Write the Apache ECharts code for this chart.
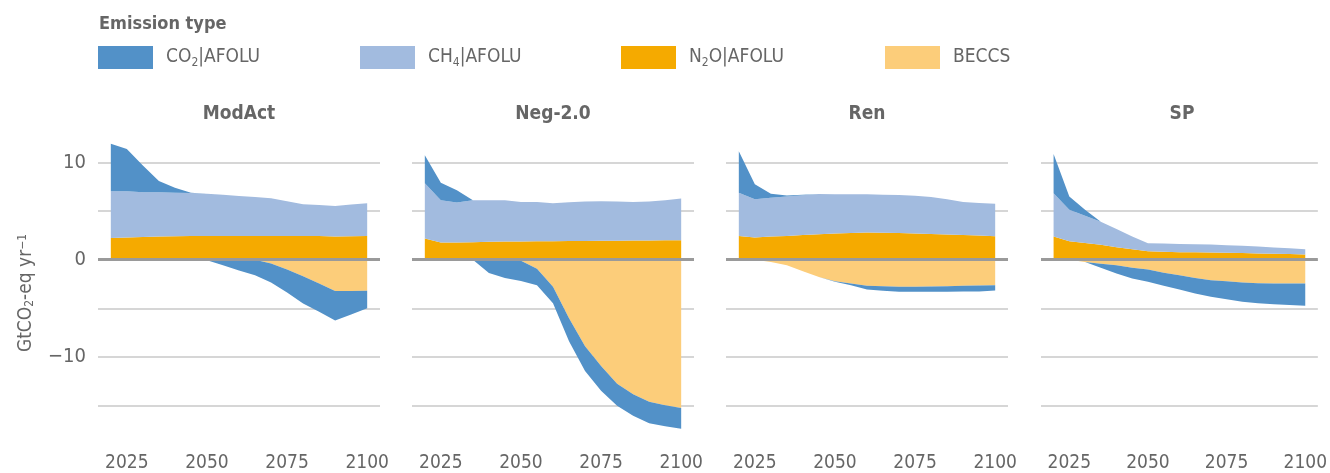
<!DOCTYPE html>
<html>
<head>
<meta charset="utf-8">
<script src="https://cdn.jsdelivr.net/npm/echarts@6/dist/echarts.min.js"></script>
<style>
html,body{margin:0;padding:0;background:#fff;}
#chart{width:1330px;height:473px;}
</style>
</head>
<body>
<div id="chart"></div>
<script>
// ---------- data (GtCO2-eq/yr) ----------
const years = [2020,2025,2030,2035,2040,2045,2050,2055,2060,2065,2070,2075,2080,2085,2090,2095,2100];
const scenarios = ['ModAct','Neg-2.0','Ren','SP'];
const xTickYears = [2025,2050,2075,2100];
const yTickLabels = {'10':'10','0':'0','-10':'\u221210'};

const co2_ModAct  = [4.9,4.35,2.75,1.16,0.51,0.03,-0.05,-0.58,-1.1,-1.6,-1.95,-2.37,-2.8,-2.9,-3.03,-2.4,-1.8];
const ch4_ModAct  = [4.8,4.76,4.61,4.56,4.48,4.42,4.35,4.23,4.11,4.0,3.88,3.57,3.26,3.2,3.14,3.26,3.37];
const n2o_ModAct  = [2.24,2.28,2.33,2.38,2.42,2.45,2.45,2.45,2.45,2.45,2.45,2.45,2.45,2.43,2.4,2.42,2.45];
const beccs_ModAct= [0,0,0,0,0,0,0,0,0,0,-0.4,-1.0,-1.7,-2.45,-3.23,-3.23,-3.2];

const co2_Neg  = [2.89,1.81,1.26,0,-1.36,-1.87,-2.08,-1.7,-1.7,-2.38,-2.55,-2.55,-2.27,-2.21,-2.21,-2.17,-2.14];
const ch4_Neg  = [5.68,4.35,4.11,4.32,4.27,4.25,4.07,4.05,3.92,4.0,4.06,4.07,4.04,3.98,4.01,4.12,4.29];
const n2o_Neg  = [2.18,1.77,1.77,1.8,1.85,1.87,1.88,1.9,1.9,1.92,1.93,1.95,1.95,1.97,1.98,2.0,2.0];
const beccs_Neg= [0,0,0,0,0,0,-0.1,-0.92,-2.79,-6.02,-8.91,-10.95,-12.76,-13.84,-14.63,-14.97,-15.27];

const co2_Ren  = [4.26,1.54,0.41,0.1,0.05,0,-0.07,-0.17,-0.37,-0.48,-0.51,-0.51,-0.54,-0.55,-0.58,-0.6,-0.54];
const ch4_Ren  = [4.45,3.94,4.01,4.05,4.08,4.15,4.04,3.99,3.94,3.92,3.91,3.87,3.81,3.62,3.4,3.37,3.34];
const n2o_Ren  = [2.45,2.28,2.38,2.45,2.55,2.62,2.69,2.74,2.79,2.78,2.76,2.71,2.65,2.6,2.55,2.48,2.41];
const beccs_Ren= [0,0,-0.24,-0.58,-1.19,-1.77,-2.21,-2.45,-2.69,-2.72,-2.79,-2.79,-2.76,-2.74,-2.69,-2.66,-2.62];

const co2_SP  = [4.04,1.36,0.62,-0.41,-0.85,-1.12,-1.26,-1.36,-1.46,-1.6,-1.7,-1.87,-1.97,-2.08,-2.14,-2.21,-2.28];
const ch4_SP  = [4.46,3.24,2.79,2.38,1.87,1.29,0.82,0.85,0.85,0.84,0.82,0.79,0.75,0.7,0.64,0.6,0.55];
const n2o_SP  = [2.38,1.9,1.73,1.53,1.29,1.09,0.88,0.82,0.78,0.76,0.74,0.71,0.68,0.65,0.62,0.58,0.54];
const beccs_SP= [0,0,-0.24,-0.41,-0.58,-0.82,-1.02,-1.33,-1.6,-1.87,-2.11,-2.21,-2.35,-2.41,-2.45,-2.45,-2.45];

const co2All   = [co2_ModAct, co2_Neg, co2_Ren, co2_SP];
const ch4All   = [ch4_ModAct, ch4_Neg, ch4_Ren, ch4_SP];
const n2oAll   = [n2o_ModAct, n2o_Neg, n2o_Ren, n2o_SP];
const beccsAll = [beccs_ModAct, beccs_Neg, beccs_Ren, beccs_SP];

const seriesNames = ['CO2|AFOLU','CH4|AFOLU','N2O|AFOLU','BECCS'];
const legendRich  = {
  'CO2|AFOLU':'{t|CO}{s|2}{t||AFOLU}',
  'CH4|AFOLU':'{t|CH}{s|4}{t||AFOLU}',
  'N2O|AFOLU':'{t|N}{s|2}{t|O|AFOLU}',
  'BECCS':'{t|BECCS}'
};

// ---------- styling ----------
const FONT = "'DejaVu Sans Condensed','DejaVu Sans',sans-serif";
const TXT = '#666666';
const colors = {'CO2|AFOLU':'#5291C8','CH4|AFOLU':'#A2BBDF','N2O|AFOLU':'#F5AA00','BECCS':'#FCCD7A'};
const gridLefts = [98, 412, 726, 1041];
const gridWidth = 282;
const gridTop = 114, gridHeight = 343;
const legendLefts = [98, 360, 621, 885];

// rows are [value, year] so the stacked dimension is the value (y)
const pair = (arr) => arr.map((v,i)=>[v, years[i]]);

const grids=[], xAxes=[], yAxes=[], series=[], titles=[], legends=[];

titles.push({text:'Emission type', left:99, top:15, padding:0,
  textStyle:{fontFamily:FONT, fontWeight:'bold', fontSize:18, color:TXT}});

scenarios.forEach((sc, g) => {
  grids.push({left:gridLefts[g], top:gridTop, width:gridWidth, height:gridHeight, containLabel:false});
  titles.push({text:sc, left:gridLefts[g]+gridWidth/2, top:105, padding:0, textAlign:'center',
    textStyle:{fontFamily:FONT, fontWeight:'bold', fontSize:19, color:TXT}});
  xAxes.push({type:'value', gridIndex:g, min:2016, max:2104,
    axisLine:{show:false}, axisTick:{show:false}, splitLine:{show:false},
    axisLabel:{customValues:xTickYears, margin:0, fontFamily:FONT, fontSize:19, color:TXT,
      formatter:(v)=> String(v)}});
  yAxes.push({type:'value', gridIndex:g, min:-20, max:15, interval:5,
    axisLine:{show:false}, axisTick:{show:false},
    splitLine:{show:true, showMinLine:false, showMaxLine:false, lineStyle:{color:'#c8c8c8', width:1.5}},
    axisLabel:{show:g===0, margin:12, fontFamily:FONT, fontSize:20, color:TXT,
      formatter:(v)=> (yTickLabels[String(v)] !== undefined ? yTickLabels[String(v)] : '')},
    name: g===0 ? '{a|GtCO}{s|2}{a|-eq yr}{p|\u22121}' : '',
    nameLocation:'middle', nameRotate:90, nameGap:62,
    nameTextStyle:{fontFamily:FONT, color:TXT, padding:[0,18,0,0], rich:{
      a:{fontFamily:FONT, fontSize:19, color:TXT},
      s:{fontFamily:FONT, fontSize:12, color:TXT, lineHeight:12, verticalAlign:'bottom'},
      p:{fontFamily:FONT, fontSize:12, color:TXT, lineHeight:12, verticalAlign:'top'}
    }}
  });
  const base = {type:'line', xAxisIndex:g, yAxisIndex:g, symbol:'none', silent:true,
    encode:{x:1, y:0}, emphasis:{disabled:true}, animation:false};
  const mk = (name, stack, data, extra) => Object.assign({}, base, {
    name, stack:stack+g, data:pair(data),
    lineStyle:{width:0, opacity:0},
    areaStyle:{color:colors[name], opacity:1},
    itemStyle:{color:colors[name]}}, extra||{});
  series.push(mk('N2O|AFOLU','p', n2oAll[g]));
  series.push(mk('CH4|AFOLU','p', ch4All[g]));
  series.push(mk('CO2|AFOLU','p', co2All[g].map(v=>Math.max(v,0))));
  series.push(mk('BECCS','n', beccsAll[g]));
  series.push(mk('CO2|AFOLU','n', co2All[g].map(v=>Math.min(v,0)), {
    markLine:{silent:true, symbol:['none','none'], label:{show:false},
      lineStyle:{color:'#9a9a9a', width:3, type:'solid'}, data:[{yAxis:0}], animation:false}
  }));
});

seriesNames.forEach((nm, k) => {
  legends.push({left:legendLefts[k], top:46, padding:0, itemWidth:55, itemHeight:23,
    icon:'rect', selectedMode:false, data:[nm],
    formatter:(n)=>legendRich[n],
    textStyle:{fontFamily:FONT, color:TXT, padding:[0,0,0,8], rich:{
      t:{fontFamily:FONT, fontSize:19, color:TXT, lineHeight:22},
      s:{fontFamily:FONT, fontSize:12, color:TXT, lineHeight:12, verticalAlign:'bottom'}
    }}
  });
});

const chart = echarts.init(document.getElementById('chart'), null, {renderer:'canvas'});
chart.setOption({
  backgroundColor:'#ffffff',
  animation:false,
  title:titles,
  legend:legends,
  grid:grids, xAxis:xAxes, yAxis:yAxes, series:series
});
</script>
</body>
</html>
